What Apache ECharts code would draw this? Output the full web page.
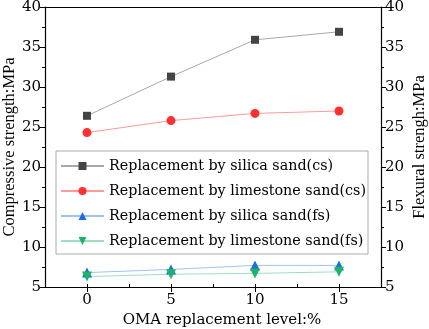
<!DOCTYPE html>
<html>
<head>
<meta charset="utf-8">
<script src="https://cdn.jsdelivr.net/npm/echarts@6/dist/echarts.min.js"></script>
<style>
html, body { margin: 0; padding: 0; background: #fff; }
#chart { width: 429px; height: 329px; }
</style>
</head>
<body>
<div id="chart"></div>
<script>
const levels = [0, 5, 10, 15]
const silicaCs = [26.4, 31.3, 35.9, 36.9]
const limestoneCs = [24.3, 25.8, 26.7, 27.0]
const silicaFs = [6.8, 7.2, 7.7, 7.7]
const limestoneFs = [6.3, 6.6, 6.7, 6.9]
const xTicks = [0, 5, 10, 15]
const seriesNames = [
    'Replacement by silica sand(cs)',
    'Replacement by limestone sand(cs)',
    'Replacement by silica sand(fs)',
    'Replacement by limestone sand(fs)'
]

const font = 'DejaVu Serif'
const axisText = { fontFamily: font, fontSize: 15, color: '#000' }
const black = { color: '#000' }

function pairs (vals) {
    return vals.map((v, i) => [levels[i], v])
}

function yAxisOf (pos, name) {
    return {
        type: 'value',
        position: pos,
        min: 5,
        max: 40,
        interval: 5,
        name: name,
        nameLocation: 'middle',
        nameMoveOverlap: false,
        nameGap: pos === 'left' ? 27 : 30,
        nameTextStyle: { fontFamily: 'Liberation Serif', fontSize: 16.5, color: '#000' },
        axisLine: { show: true, onZero: false, lineStyle: { color: '#000', width: 1.2 } },
        axisTick: { show: true, length: 5, lineStyle: black },
        minorTick: { show: true, splitNumber: 2, length: 3, lineStyle: black },
        axisLabel: Object.assign({ margin: 4 }, axisText),
        splitLine: { show: false }
    }
}

const lineColors = ['#a8a8a8', '#ff9a9a', '#9ec4ee', '#9fdcc0']
const markColors = ['#444444', '#ff3030', '#1a6fe0', '#1cb36a']
const symbols = ['rect', 'circle', 'triangle', 'path://M0,0 L10,0 L5,9 Z']
const symbolSizes = [8, 9, 10, 10]
const datas = [silicaCs, limestoneCs, silicaFs, limestoneFs]

const xBase = { type: 'value', min: -2.5, max: 17.5, splitLine: { show: false } }

const option = {
    animation: false,
    grid: { left: 45, right: 48, top: 7, bottom: 42, containLabel: false, outerBoundsMode: 'none' },
    xAxis: [
        Object.assign({}, xBase, {
            name: 'OMA replacement level:%',
            nameLocation: 'middle',
            nameGap: 25,
            nameTextStyle: Object.assign({ padding: [0, 0, 0, 18] }, axisText),
            axisLine: { onZero: false, lineStyle: { color: '#000', width: 1.2 } },
            axisTick: { length: 5, customValues: xTicks, lineStyle: black },
            axisLabel: Object.assign({ margin: 6, customValues: xTicks }, axisText)
        }),
        Object.assign({}, xBase, {
            position: 'top',
            axisLine: { show: true, onZero: false, lineStyle: { color: '#000', width: 1.2 } },
            axisTick: { show: false },
            axisLabel: { show: false }
        }),
        // minor ticks halfway between the labelled ones
        Object.assign({}, xBase, {
            position: 'bottom',
            interval: 2.5,
            axisLine: { show: false, onZero: false },
            axisTick: { show: true, inside: true, length: 3, lineStyle: black },
            axisLabel: { show: false }
        })
    ],
    yAxis: [yAxisOf('left', 'Compressive strength:MPa'), yAxisOf('right', 'Flexural strengh:MPa')],
    legend: {
        orient: 'vertical',
        left: 56,
        top: 151,
        data: seriesNames,
        itemWidth: 43,
        itemHeight: 10,
        itemGap: 7,
        padding: [6, 2, 4, 4],
        borderColor: '#aaa',
        borderWidth: 1,
        backgroundColor: '#fff',
        textStyle: { fontFamily: font, fontSize: 14.3, color: '#000', lineHeight: 18 }
    },
    series: datas.map((d, i) => ({
        name: seriesNames[i],
        type: 'line',
        yAxisIndex: i < 2 ? 0 : 1,
        data: pairs(d),
        symbol: symbols[i],
        symbolSize: symbolSizes[i],
        lineStyle: { color: lineColors[i], width: 1 },
        itemStyle: { color: markColors[i] },
        z: 3
    }))
}

const chart = echarts.init(document.getElementById('chart'))
chart.setOption(option)
</script>
</body>
</html>
